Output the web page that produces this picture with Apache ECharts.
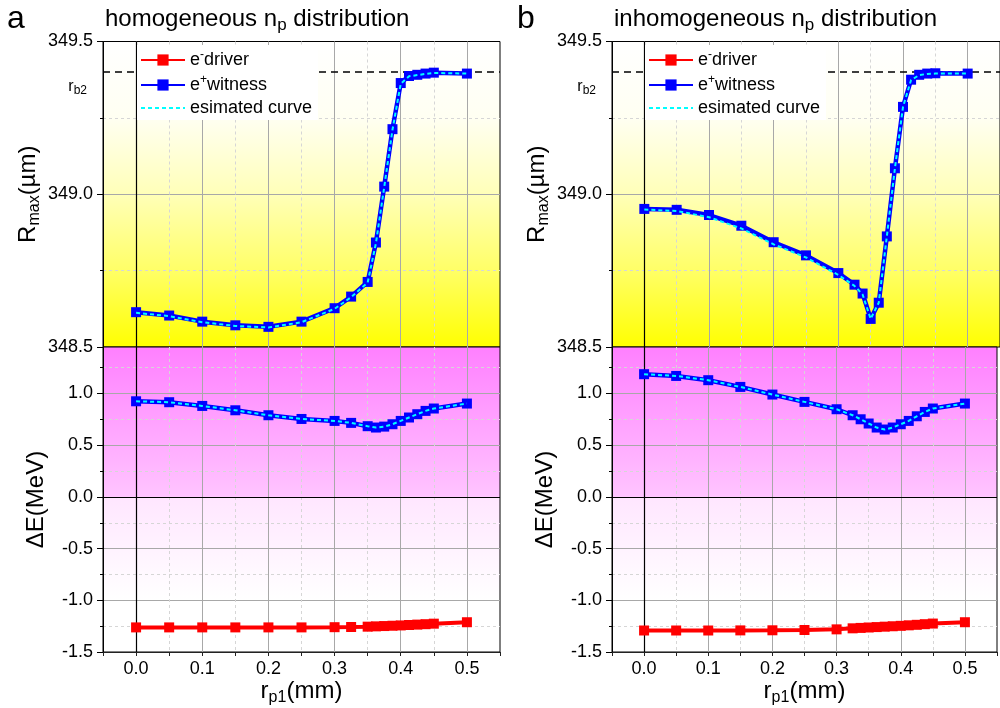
<!DOCTYPE html>
<html><head><meta charset="utf-8">
<script src="https://cdn.jsdelivr.net/npm/echarts@6/dist/echarts.min.js"></script>
<style>html,body{margin:0;padding:0;background:#fff}#c{width:1000px;height:708px}</style>
</head><body><div id="c"></div>
<script>
// ---------- data ----------
const xLeft = [0, 0.05, 0.1, 0.15, 0.2, 0.25, 0.3, 0.325, 0.35, 0.3625, 0.375, 0.3875, 0.4, 0.4125, 0.425, 0.4375, 0.45, 0.5];
const rmaxLeft = [348.614, 348.603, 348.583, 348.571, 348.566, 348.583, 348.627, 348.665, 348.713, 348.842, 349.025, 349.213, 349.364, 349.387, 349.391, 349.395, 349.398, 349.395];
const rmaxEstLeft = [348.612, 348.601, 348.581, 348.569, 348.564, 348.581, 348.625, 348.663, 348.711, 348.840, 349.023, 349.211, 349.362, 349.386, 349.390, 349.394, 349.397, 349.395];
const deWitLeft = [0.925, 0.916, 0.88, 0.838, 0.79, 0.754, 0.735, 0.716, 0.684, 0.671, 0.68, 0.703, 0.735, 0.768, 0.80, 0.832, 0.855, 0.903];
const deEstLeft = [0.925, 0.916, 0.88, 0.838, 0.79, 0.754, 0.735, 0.716, 0.684, 0.671, 0.68, 0.703, 0.735, 0.768, 0.80, 0.832, 0.855, 0.903];
const deDrvLeft = [-1.262, -1.262, -1.262, -1.262, -1.262, -1.262, -1.26, -1.258, -1.255, -1.252, -1.249, -1.246, -1.243, -1.239, -1.235, -1.231, -1.226, -1.212];

const xRight = [0, 0.05, 0.1, 0.15, 0.2, 0.25, 0.3, 0.325, 0.3375, 0.35, 0.3625, 0.375, 0.3875, 0.4, 0.4125, 0.425, 0.4375, 0.45, 0.5];
const rmaxRight = [348.952, 348.949, 348.932, 348.897, 348.843, 348.80, 348.742, 348.704, 348.675, 348.592, 348.645, 348.862, 349.085, 349.286, 349.375, 349.391, 349.395, 349.396, 349.395];
const rmaxEstRight = [348.950, 348.945, 348.925, 348.888, 348.836, 348.793, 348.736, 348.700, 348.672, 348.592, 348.645, 348.862, 349.085, 349.286, 349.374, 349.390, 349.394, 349.395, 349.395];
const deWitRight = [1.187, 1.17, 1.129, 1.064, 0.99, 0.919, 0.848, 0.79, 0.751, 0.71, 0.671, 0.652, 0.671, 0.703, 0.735, 0.78, 0.822, 0.855, 0.903];
const deEstRight = [1.187, 1.17, 1.129, 1.064, 0.99, 0.919, 0.848, 0.79, 0.751, 0.71, 0.671, 0.652, 0.671, 0.703, 0.735, 0.78, 0.822, 0.855, 0.903];
const deDrvRight = [-1.292, -1.292, -1.292, -1.291, -1.29, -1.287, -1.281, -1.271, -1.267, -1.263, -1.259, -1.255, -1.251, -1.247, -1.242, -1.237, -1.231, -1.225, -1.212];

const rb2 = 349.4;
const xRange = [-0.05, 0.55];
const rmaxRange = [348.5, 349.5];
const deRange = [-1.5, 1.45];
const panelTitles = [['homogeneous n', 'p', ' distribution'], ['inhomogeneous n', 'p', ' distribution']];
const panelLetters = ['a', 'b'];
const legendNames = ['e-driver', 'e+witness', 'esimated curve'];

// ---------- chart ----------
const FONT = 'Arial, "Liberation Sans", sans-serif';
const chart = echarts.init(document.getElementById('c'));

const topBg = new echarts.graphic.LinearGradient(0, 0, 0, 1, [
  {offset: 0, color: '#ffffff'}, {offset: 0.25, color: '#fffff2'}, {offset: 0.5, color: '#ffffb8'},
  {offset: 0.75, color: '#ffff66'}, {offset: 1, color: '#ffff00'}]);
const botBg = new echarts.graphic.LinearGradient(0, 0, 0, 1, [
  {offset: 0, color: '#ff80ff'}, {offset: 0.49, color: '#ffc4ff'},
  {offset: 0.4915, color: '#ffe6ff'}, {offset: 0.83, color: '#ffffff'}, {offset: 1, color: '#ffffff'}]);

const panelLeft = [103, 612];
const grids = [];
panelLeft.forEach(l => {
  grids.push({left: l, width: 397, top: 41.5, height: 305.5, show: true, borderColor: '#000', borderWidth: 1, backgroundColor: topBg});
  grids.push({left: l, width: 397, top: 347, height: 305, show: true, borderColor: '#000', borderWidth: 1, backgroundColor: botBg});
});

const xFmt = v => { const k = Math.round(v * 100); return (k >= 0 && k <= 50 && k % 10 === 0) ? (k / 100).toFixed(1) : ''; };
const xAxes = [];
for (let g = 0; g < 4; g++) {
  const bottom = g % 2 === 1;
  xAxes.push({
    type: 'value', gridIndex: g, min: xRange[0], max: xRange[1], interval: 0.05,
    axisLine: {show: bottom, onZero: false, lineStyle: {color: '#222', width: 1}},
    axisTick: {show: bottom, length: 4, lineStyle: {color: '#222'}},
    axisLabel: {show: bottom, formatter: xFmt, fontSize: 18, fontFamily: FONT, color: '#000', margin: 8},
    splitLine: {show: true, showMaxLine: false, lineStyle: {color: ['rgba(0,0,0,0)', '#a8a8a8'], width: 1}},
    name: bottom ? '{t|r}{s|p1}{t|(mm)}' : '', nameLocation: 'middle', nameGap: 24,
    nameTextStyle: {rich: {t: {fontSize: 24, fontFamily: FONT, color: '#000', lineHeight: 30}, s: {fontSize: 16, fontFamily: FONT, color: '#000', lineHeight: 14, verticalAlign: 'bottom'}}}
  });
  xAxes.push({
    type: 'value', gridIndex: g, min: xRange[0], max: xRange[1], interval: 0.05,
    axisLine: {show: false}, axisTick: {show: false}, axisLabel: {show: false},
    splitLine: {show: true, showMaxLine: false, lineStyle: {color: ['#d6d6d6', 'rgba(0,0,0,0)'], width: 1, type: [3, 3]}}
  });
}

const yAxes = [];
for (let g = 0; g < 4; g++) {
  const bottom = g % 2 === 1;
  yAxes.push({
    type: 'value', gridIndex: g,
    min: bottom ? deRange[0] : rmaxRange[0], max: bottom ? deRange[1] : rmaxRange[1], interval: 0.5,
    axisLine: {show: true, onZero: false, lineStyle: {color: '#000', width: 1}},
    axisTick: {show: true, length: 6, lineStyle: {color: '#000'}},
    minorTick: {show: true, splitNumber: 2, length: 3, lineStyle: {color: '#000'}},
    splitLine: {show: true, showMinLine: false, showMaxLine: false, lineStyle: {color: '#a8a8a8', width: 1}},
    minorSplitLine: {show: true, lineStyle: {color: '#d6d6d6', width: 1, type: [3, 3]}},
    axisLabel: {
      fontSize: 18, fontFamily: FONT, color: '#000', margin: 10,
      formatter: v => { const k = Math.round(v * 100); return (k % 50 === 0) ? (k / 100).toFixed(1) : ''; }
    },
    name: bottom ? '{t|\u0394E(MeV)}' : '{t|R}{s|max}{t|(\u00b5m)}',
    nameLocation: 'middle', nameRotate: 90, nameGap: bottom ? 52 : 60,
    nameTextStyle: {rich: {t: {fontSize: 24, fontFamily: FONT, color: '#000', lineHeight: 30}, s: {fontSize: 16, fontFamily: FONT, color: '#000', lineHeight: 14, verticalAlign: 'bottom'}}}
  });
}

const pairs = (xs, ys) => xs.map((x, i) => [x, ys[i]]);
const blueStyle = {type: 'line', name: 'e+witness', symbol: 'rect', symbolSize: 10, lineStyle: {color: '#0000ff', width: 4.5}, itemStyle: {color: '#0000ff'}, z: 3};
const cyanStyle = {type: 'line', name: 'esimated curve', symbol: 'none', lineStyle: {color: '#00ffff', width: 2, type: [4, 3]}, itemStyle: {color: '#00ffff'}, z: 4};
const redStyle = {type: 'line', name: 'e-driver', symbol: 'rect', symbolSize: 10, lineStyle: {color: '#ff0000', width: 4}, itemStyle: {color: '#ff0000'}, z: 3};

const series = [];
const panels = [
  {xs: xLeft, rmax: rmaxLeft, rmaxEst: rmaxEstLeft, wit: deWitLeft, est: deEstLeft, drv: deDrvLeft},
  {xs: xRight, rmax: rmaxRight, rmaxEst: rmaxEstRight, wit: deWitRight, est: deEstRight, drv: deDrvRight}
];
panels.forEach((p, k) => {
  const gt = k * 2, gb = k * 2 + 1;
  series.push(Object.assign({}, blueStyle, {
    xAxisIndex: gt * 2, yAxisIndex: gt, data: pairs(p.xs, p.rmax),
    markLine: {
      silent: true, symbol: 'none', z: 1, animation: false,
      data: [
        {yAxis: rb2, lineStyle: {color: '#000', width: 1.5, type: [7, 5]},
          label: {show: true, position: 'start', distance: 16, formatter: '{r|r}{b|b2}', padding: [30, 0, 0, 0],
            rich: {r: {fontSize: 16, fontFamily: FONT, color: '#000', lineHeight: 20}, b: {fontSize: 12, fontFamily: FONT, color: '#000', lineHeight: 10, verticalAlign: 'bottom'}}}},
        {xAxis: 0, lineStyle: {color: '#000', width: 1.2, type: 'solid'}, label: {show: false}}
      ]
    }
  }));
  series.push(Object.assign({}, cyanStyle, {xAxisIndex: gt * 2, yAxisIndex: gt, data: pairs(p.xs, p.rmaxEst)}));
  series.push(Object.assign({}, redStyle, {
    xAxisIndex: gb * 2, yAxisIndex: gb, data: pairs(p.xs, p.drv),
    markLine: {
      silent: true, symbol: 'none', z: 1, animation: false, label: {show: false},
      data: [
        {xAxis: 0, lineStyle: {color: '#000', width: 1.2, type: 'solid'}},
        {yAxis: 0, lineStyle: {color: '#000', width: 1.2, type: 'solid'}}
      ]
    }
  }));
  series.push(Object.assign({}, blueStyle, {xAxisIndex: gb * 2, yAxisIndex: gb, data: pairs(p.xs, p.wit)}));
  series.push(Object.assign({}, cyanStyle, {xAxisIndex: gb * 2, yAxisIndex: gb, data: pairs(p.xs, p.est)}));
});

const legendRich = {
  t: {fontSize: 18, fontFamily: FONT, color: '#000', lineHeight: 22},
  s: {fontSize: 12, fontFamily: FONT, color: '#000', lineHeight: 12, verticalAlign: 'top'}
};
const legendFmt = name => {
  if (name === 'e-driver') return '{t|e}{s|-}{t|driver}';
  if (name === 'e+witness') return '{t|e}{s|+}{t|witness}';
  return '{t|' + name + '}';
};
const legendData = legendNames.map(n => n === 'esimated curve' ? {name: n, itemStyle: {opacity: 0}} : {name: n});
const legends = [137, 645].map(l => ({
  data: legendData, left: l, top: 45, orient: 'vertical', itemGap: 5, itemWidth: 44, itemHeight: 14,
  backgroundColor: '#ffffff', padding: [4, 6, 3, 3], formatter: legendFmt,
  textStyle: {rich: legendRich}, selectedMode: false
}));

const titleRich = {
  t: {fontSize: 24, fontFamily: FONT, fontWeight: 'normal', color: '#000', lineHeight: 30},
  s: {fontSize: 17, fontFamily: FONT, fontWeight: 'normal', color: '#000', lineHeight: 14, verticalAlign: 'bottom'}
};
const titles = [];
[0, 1].forEach(k => {
  titles.push({text: panelLetters[k], left: k === 0 ? 7 : 517, top: 3, padding: 0,
    textStyle: {fontSize: 32, fontWeight: 'normal', fontFamily: FONT, color: '#000'}});
  const t = panelTitles[k];
  titles.push({text: '{t|' + t[0] + '}{s|' + t[1] + '}{t|' + t[2] + '}', left: panelLeft[k] + 2, top: 4, padding: 0,
    textStyle: {fontWeight: 'normal', fontSize: 24, fontFamily: FONT, rich: titleRich}});
});

chart.setOption({
  animation: false,
  backgroundColor: '#ffffff',
  title: titles,
  legend: legends,
  grid: grids,
  xAxis: xAxes,
  yAxis: yAxes,
  series: series
});
</script></body></html>
